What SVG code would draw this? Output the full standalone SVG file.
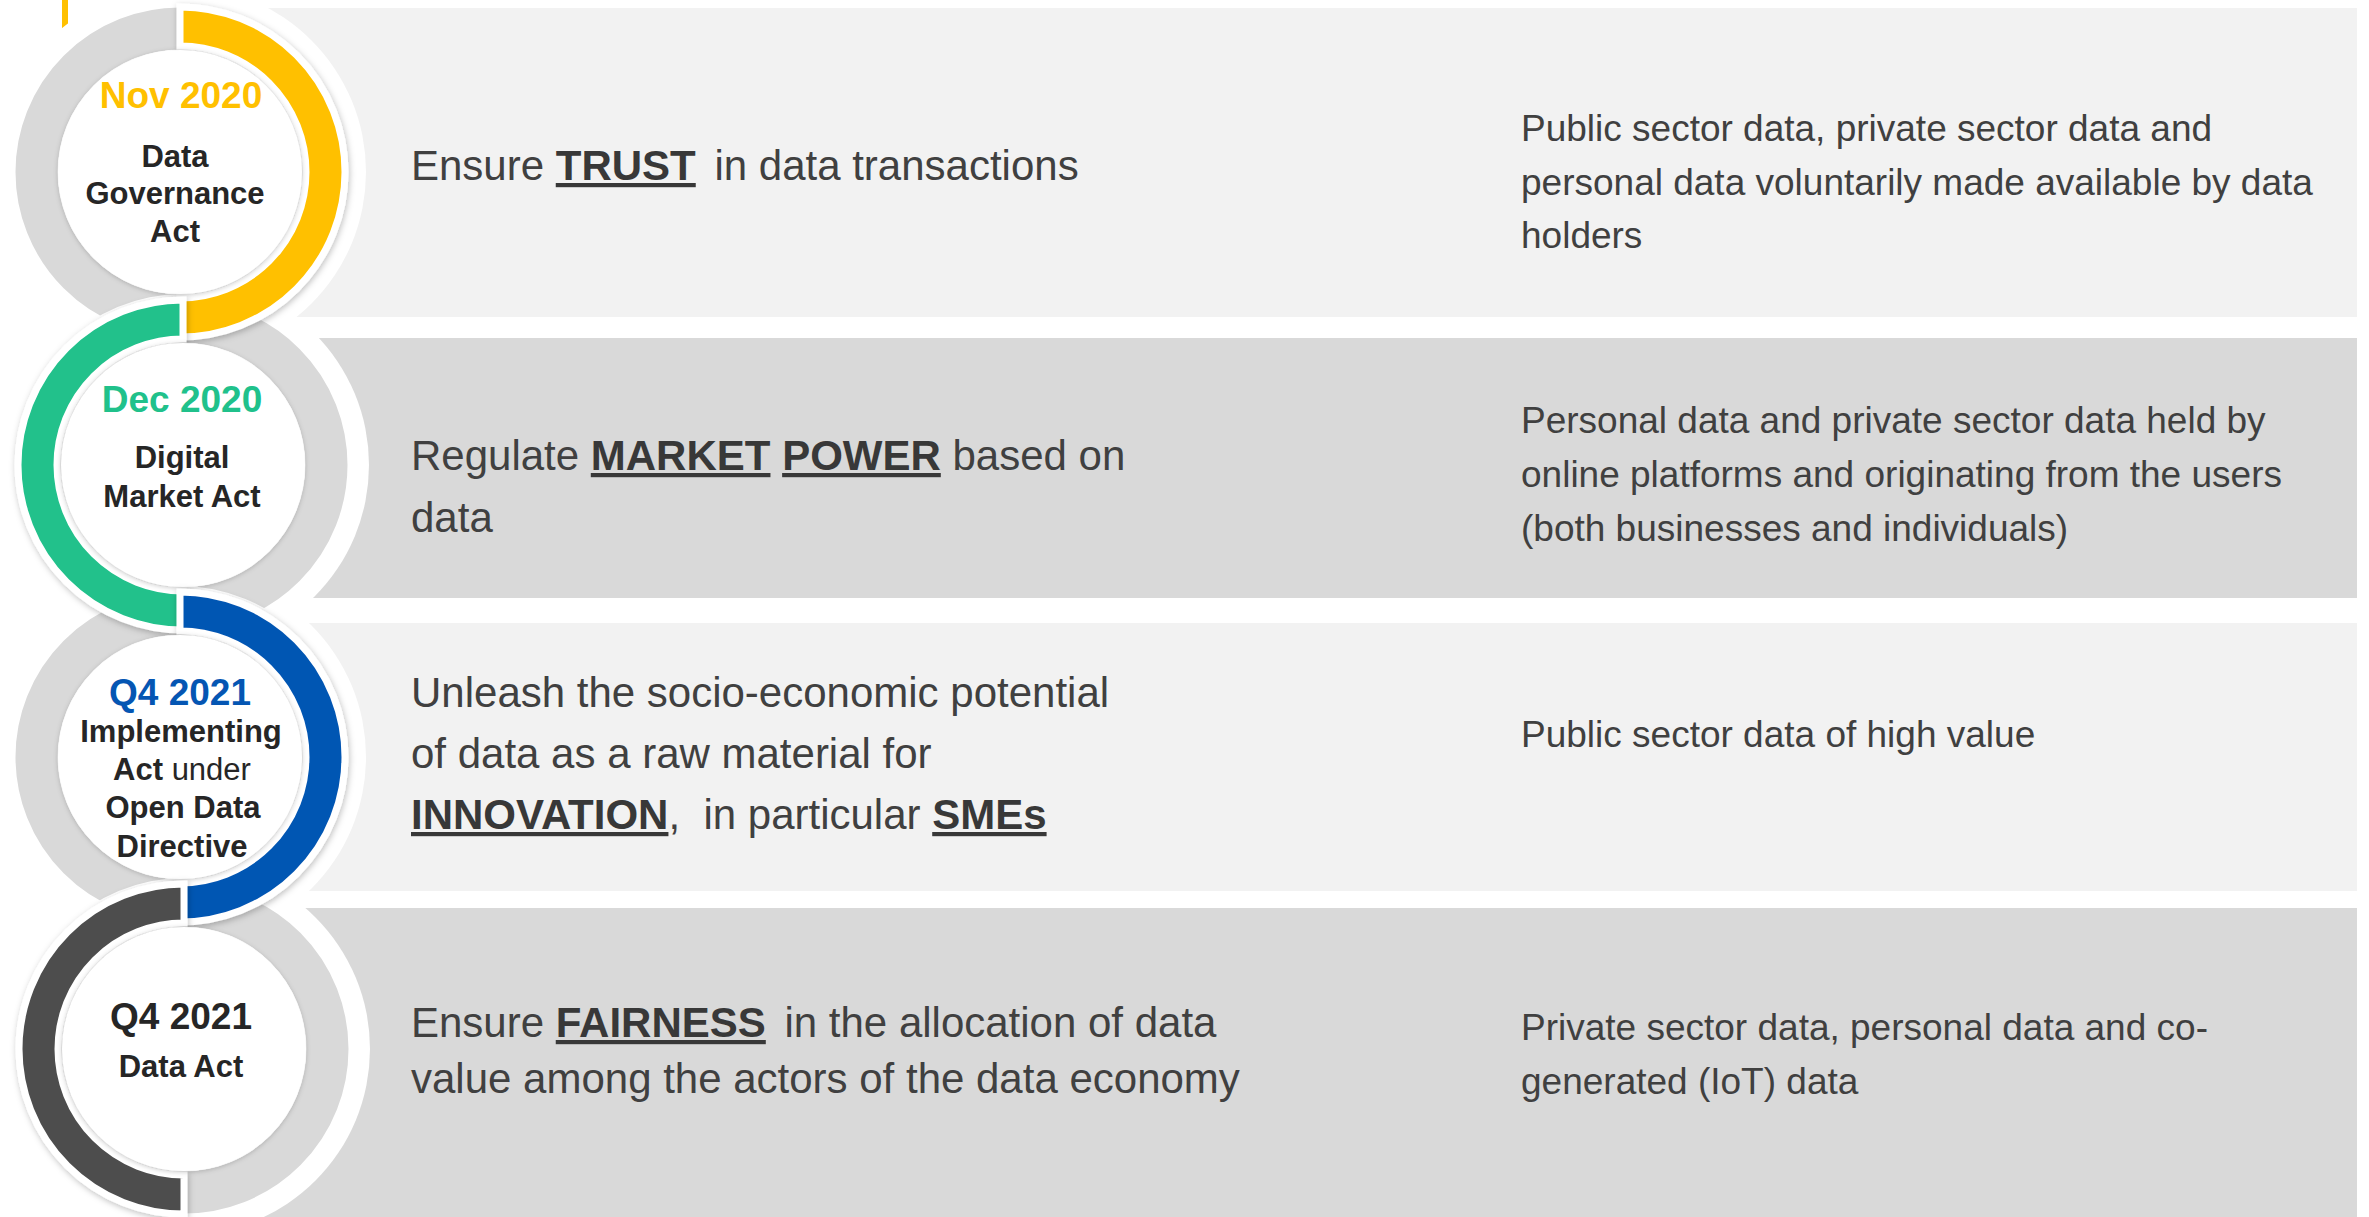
<svg xmlns="http://www.w3.org/2000/svg" width="2369" height="1217" viewBox="0 0 2369 1217">
<defs>
<style>
.pl{fill:#F2F2F2}
.pd{fill:#D9D9D9}
.halo{fill:#FFFFFF}
.track{fill:none;stroke:#D9D9D9;stroke-width:42}
.arc{stroke:#FFFFFF;stroke-width:7;stroke-linejoin:miter}
.disk{fill:#FFFFFF}
.t{font-family:"Liberation Sans",Arial,sans-serif;white-space:pre}
.date{font-size:37px;font-weight:bold;text-anchor:middle}
.lab{font-size:31px;font-weight:bold;fill:#262626;text-anchor:middle}
.mid{font-size:42px;fill:#404040}
.b{font-weight:bold;fill:#383838;text-decoration:underline}
.right{font-size:37px;fill:#404040}
</style>
<filter id="sh" x="-20%" y="-20%" width="140%" height="140%">
<feDropShadow dx="1" dy="2" stdDeviation="3" flood-color="#000" flood-opacity="0.25"/>
</filter>
<filter id="sh2" x="-20%" y="-20%" width="140%" height="140%">
<feDropShadow dx="0" dy="1" stdDeviation="2.5" flood-color="#000" flood-opacity="0.22"/>
</filter>
</defs>
<rect width="2369" height="1217" fill="#FFFFFF"/>
<g id="panels">
<rect class="pl" x="250" y="8" width="2107" height="309"/>
<rect class="pd" x="250" y="338" width="2107" height="260"/>
<rect class="pl" x="250" y="623" width="2107" height="268"/>
<rect class="pd" x="250" y="908" width="2107" height="309"/>
</g>
<polygon points="62,0 68,0 68,28 62,32" fill="#FFC000"/>
<g id="tracks">
<circle class="halo" cx="180" cy="172" r="186"/>
<circle class="halo" cx="183" cy="465" r="186"/>
<circle class="halo" cx="180" cy="757" r="186"/>
<circle class="halo" cx="184" cy="1049" r="186"/>
<circle class="halo" cx="180" cy="172" r="171"/>
<circle class="track" cx="180" cy="172" r="143.5"/>
<circle class="halo" cx="183" cy="465" r="171"/>
<circle class="track" cx="183" cy="465" r="143.5"/>
<circle class="halo" cx="180" cy="757" r="171"/>
<circle class="track" cx="180" cy="757" r="143.5"/>
<circle class="halo" cx="184" cy="1049" r="171"/>
<circle class="track" cx="184" cy="1049" r="143.5"/>
</g>
<g id="node-dga">
<path class="arc" fill="#FFC000" filter="url(#sh)" d="M180 7 A165 165 0 0 1 180 337 L180 298 A126 126 0 0 0 180 46 Z"/>
<circle class="disk" cx="180" cy="172" r="122" filter="url(#sh2)"/>
<text class="t date" x="181" y="108" fill="#FFC000">Nov 2020</text>
<text class="t lab" x="175" y="167">Data</text>
<text class="t lab" x="175" y="204">Governance</text>
<text class="t lab" x="175" y="242">Act</text>
</g>
<g id="node-dma">
<path class="arc" fill="#20C18B" filter="url(#sh)" d="M183 300 A165 165 0 0 0 183 630 L183 591 A126 126 0 0 1 183 339 Z"/>
<circle class="disk" cx="183" cy="465" r="122" filter="url(#sh2)"/>
<text class="t date" x="182" y="412" fill="#20C18B">Dec 2020</text>
<text class="t lab" x="182" y="468">Digital</text>
<text class="t lab" x="182" y="507">Market Act</text>
</g>
<g id="node-odd">
<path class="arc" fill="#0556B3" filter="url(#sh)" d="M180 592 A165 165 0 0 1 180 922 L180 883 A126 126 0 0 0 180 631 Z"/>
<circle class="disk" cx="180" cy="757" r="122" filter="url(#sh2)"/>
<text class="t date" x="180" y="705" fill="#0556B3">Q4 2021</text>
<text class="t lab" x="181" y="742">Implementing</text>
<text class="t lab" x="182" y="780">Act<tspan font-weight="normal"> under</tspan></text>
<text class="t lab" x="183" y="818">Open Data</text>
<text class="t lab" x="182" y="857">Directive</text>
</g>
<g id="node-da">
<path class="arc" fill="#4D4D4D" filter="url(#sh)" d="M184 884 A165 165 0 0 0 184 1214 L184 1175 A126 126 0 0 1 184 923 Z"/>
<circle class="disk" cx="184" cy="1049" r="122" filter="url(#sh2)"/>
<text class="t date" x="181" y="1029" fill="#262626">Q4 2021</text>
<text class="t lab" x="181" y="1077">Data Act</text>
</g>
<g id="row-dga">
<text class="t mid" x="411" y="180">Ensure <tspan class="b">TRUST</tspan><tspan dx="7"> in data transactions</tspan></text>
<text class="t right" x="1521" y="141">Public sector data, private sector data and</text>
<text class="t right" x="1521" y="195">personal data voluntarily made available by data</text>
<text class="t right" x="1521" y="248">holders</text>
</g>
<g id="row-dma">
<text class="t mid" x="411" y="470">Regulate <tspan class="b">MARKET</tspan> <tspan class="b">POWER</tspan> based on</text>
<text class="t mid" x="411" y="532">data</text>
<text class="t right" x="1521" y="433">Personal data and private sector data held by</text>
<text class="t right" x="1521" y="487">online platforms and originating from the users</text>
<text class="t right" x="1521" y="541">(both businesses and individuals)</text>
</g>
<g id="row-odd">
<text class="t mid" x="411" y="707">Unleash the socio-economic potential</text>
<text class="t mid" x="411" y="768">of data as a raw material for</text>
<text class="t mid" x="411" y="829"><tspan class="b">INNOVATION</tspan>,  in particular <tspan class="b">SMEs</tspan></text>
<text class="t right" x="1521" y="747">Public sector data of high value</text>
</g>
<g id="row-da">
<text class="t mid" x="411" y="1037">Ensure <tspan class="b">FAIRNESS</tspan><tspan dx="7"> in the allocation of data</tspan></text>
<text class="t mid" x="411" y="1093">value among the actors of the data economy</text>
<text class="t right" x="1521" y="1040">Private sector data, personal data and co-</text>
<text class="t right" x="1521" y="1094">generated (IoT) data</text>
</g>
</svg>
